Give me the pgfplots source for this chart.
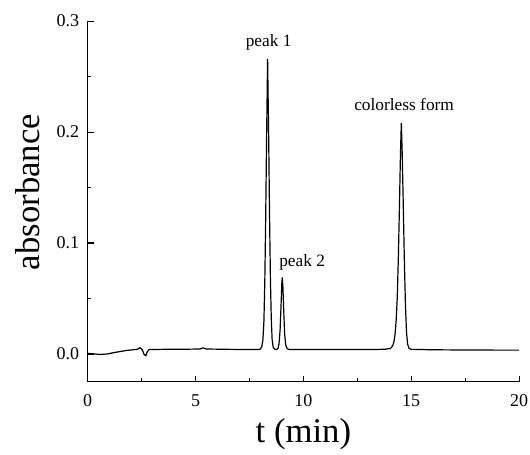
\documentclass[border=0pt]{standalone}
\usepackage{fontspec}
\setmainfont{Liberation Serif}
\usepackage{pgfplots}
\pgfplotsset{compat=1.18}

\begin{document}
\begin{tikzpicture}
\begin{axis}[
  scale only axis,
  width=323.5pt, height=270.5pt,
  xmin=0, xmax=20, ymin=-0.025, ymax=0.3,
  axis x line=bottom, axis y line=left,
  axis line style={-, line width=0.9pt},
  xtick align=inside, ytick align=inside,
  major tick length=4.5pt, minor tick length=2.5pt,
  tick style={line width=0.8pt, black},
  xtick={0,5,10,15,20}, ytick={0,0.1,0.2,0.3},
  minor tick num=1,
  /pgf/number format/assume math mode=true,
  ticklabel style={font=\fontsize{13.5}{16}\selectfont},
  xticklabel style={yshift=-6pt},
  yticklabel style={xshift=-3pt, /pgf/number format/.cd, fixed, fixed zerofill, precision=1},
  xlabel={t (min)}, ylabel={absorbance},
  label style={font=\fontsize{26}{30}\selectfont},
  xlabel style={yshift=-2pt},
  ylabel style={yshift=6pt, xshift=7pt},
  clip=false
]
\addplot[black, line width=0.9pt] coordinates {
  (0,0.0006) (0.3,0.0001) (0.6,-0.0004) (0.9,0.0000) (1.2,0.0012) (1.5,0.0022)
  (1.8,0.0032) (2.1,0.0038) (2.3,0.0042) (2.42,0.0057) (2.52,0.0040) (2.62,-0.0005)
  (2.7,-0.0015) (2.76,0.0020) (2.85,0.0040) (3.5,0.0042) (4.5,0.0043) (5.2,0.0045)
  (5.35,0.0055) (5.5,0.0045) (6.5,0.0042) (7.5,0.0040) (7.9,0.0040)
  (8.0,0.0045) (8.06,0.006) (8.12,0.012) (8.17,0.030) (8.21,0.065) (8.25,0.120)
  (8.29,0.190) (8.34,0.266) (8.39,0.195) (8.43,0.125) (8.47,0.068) (8.51,0.032)
  (8.55,0.013) (8.6,0.006) (8.68,0.0042) (8.75,0.0040) (8.82,0.0050)
  (8.87,0.009) (8.92,0.022) (8.96,0.042) (9.0,0.064) (9.02,0.069) (9.05,0.060)
  (9.09,0.038) (9.13,0.018) (9.18,0.008) (9.25,0.0048) (9.35,0.0040)
  (10.5,0.0040) (12,0.0040) (13.2,0.0040) (13.8,0.0043) (14.04,0.0050)
  (14.14,0.0075) (14.2,0.011) (14.25,0.018) (14.3,0.030) (14.35,0.050)
  (14.4,0.085) (14.45,0.130) (14.5,0.180) (14.54,0.208) (14.58,0.182)
  (14.63,0.135) (14.68,0.085) (14.73,0.045) (14.78,0.020) (14.83,0.009)
  (14.9,0.005) (15.0,0.0042) (16,0.0038) (17.5,0.0036) (19,0.0035) (20,0.0035)
};
\node[anchor=base, font=\fontsize{13}{15}\selectfont] at (axis cs:8.39,0.277) {peak 1};
\node[anchor=base, font=\fontsize{13}{15}\selectfont] at (axis cs:9.94,0.079) {peak 2};
\node[anchor=base, font=\fontsize{13}{15}\selectfont] at (axis cs:14.67,0.2195) {colorless form};
\end{axis}
\pgfresetboundingbox
\path ([xshift=-65.8pt,yshift=-54.2pt]current axis.south west) rectangle ([xshift=8.2pt,yshift=15.8pt]current axis.north east);
\end{tikzpicture}
\end{document}
